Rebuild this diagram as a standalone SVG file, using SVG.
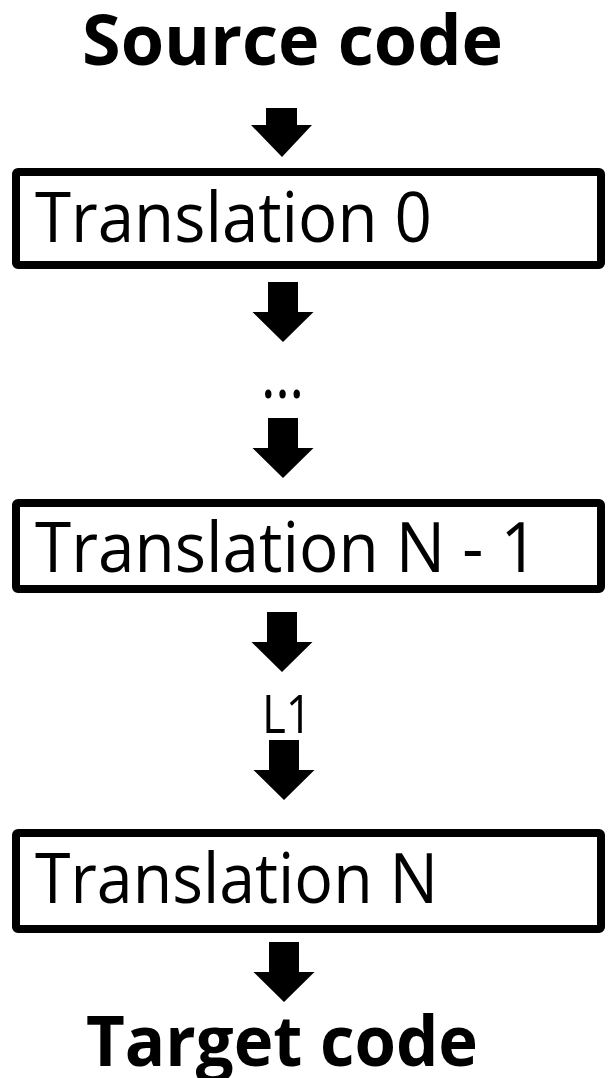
<svg xmlns="http://www.w3.org/2000/svg" width="608" height="1078" viewBox="0 0 608 1078">
  <style>
    .box { fill: #ffffff; stroke: #000000; stroke-width: 8; stroke-linejoin: round; }
    .lbl { font-family: "Open Sans", "Liberation Sans", sans-serif; font-size: 70px; fill: #000000; }
    .title { font-family: "Open Sans", "Liberation Sans", sans-serif; font-size: 70px; font-weight: bold; fill: #000000; }
    .small { font-family: "Open Sans", "Liberation Sans", sans-serif; font-size: 53px; fill: #000000; }
    .arrow { fill: #000000; }
  </style>
  <defs>
    <!-- block arrow pointing down, origin at top centre of the shaft -->
    <path id="down" d="M -15 0 H 15 V 30 H 30.5 L 0 60 L -30.5 30 H -15 Z"/>
  </defs>
  <rect width="608" height="1078" fill="#ffffff"/>

  <g id="source">
    <text class="title" x="82" y="65" textLength="421" lengthAdjust="spacingAndGlyphs">Source code</text>
  </g>

  <g id="translation-0">
    <rect class="box" x="16" y="172" width="585" height="93" rx="2"/>
    <text class="lbl" x="35" y="242" textLength="397" lengthAdjust="spacingAndGlyphs">Translation 0</text>
  </g>

  <g id="ellipsis">
    <text class="lbl" x="261" y="398" textLength="43" lengthAdjust="spacingAndGlyphs">…</text>
  </g>

  <g id="translation-n-1">
    <rect class="box" x="16" y="503" width="585" height="86" rx="2"/>
    <text class="lbl" x="35" y="572" textLength="503" lengthAdjust="spacingAndGlyphs">Translation N - 1</text>
  </g>

  <g id="l1">
    <text class="small" x="262" y="733" textLength="50" lengthAdjust="spacingAndGlyphs">L1</text>
  </g>

  <g id="translation-n">
    <rect class="box" x="16" y="833" width="585" height="96" rx="2"/>
    <text class="lbl" x="35" y="903" textLength="403" lengthAdjust="spacingAndGlyphs">Translation N</text>
  </g>

  <g id="target">
    <text class="title" x="86" y="1066" textLength="392" lengthAdjust="spacingAndGlyphs">Target code</text>
  </g>

  <g id="connectors">
    <path class="arrow" d="M 266 108 H 297 V 125 H 312 L 282 157 L 251 125 H 266 Z"/>
    <use class="arrow" href="#down" x="283" y="282"/>
    <use class="arrow" href="#down" x="283" y="418"/>
    <use class="arrow" href="#down" x="282" y="612"/>
    <use class="arrow" href="#down" x="284" y="740"/>
    <use class="arrow" href="#down" x="284" y="942"/>
  </g>
</svg>
